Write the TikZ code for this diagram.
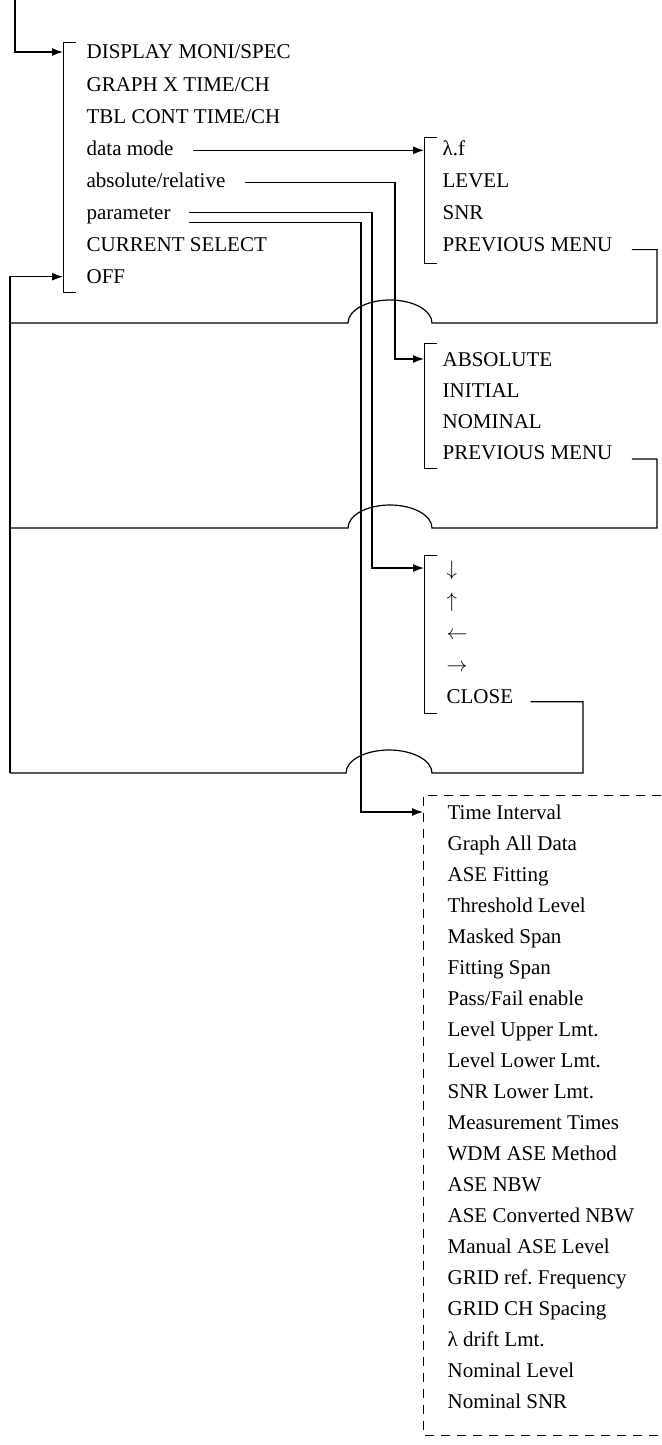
\documentclass[tikz,border=0pt]{standalone}
\usepackage{fontspec}
\setmainfont{Liberation Serif}
\usepackage{tikz}
\usetikzlibrary{arrows.meta,positioning}

\begin{document}
\begin{tikzpicture}[x=1pt, y=-1pt, >={Latex[length=11pt,width=8pt]}, line width=1.2pt]
        \tikzstyle{menuitem}=[inner sep=0pt, text height=14pt, text depth=0pt, anchor=west, font=\fontsize{21}{25}\selectfont\frenchspacing]
        \tikzstyle{boxline}=[line width=1pt, dash pattern=on 9pt off 7pt]
        \useasboundingbox (0,0) rectangle (661,1445);
        % menus
        \foreach \t [count=\i] in {DISPLAY MONI/SPEC, GRAPH X TIME/CH, TBL CONT TIME/CH, data mode, absolute/relative, parameter, CURRENT SELECT, OFF}
            \node[menuitem] (main\i) at (86,{52+32.1*(\i-1)}) {\t};
        \foreach \t [count=\i] in {λ.f, LEVEL, SNR, PREVIOUS MENU}
            \node[menuitem] (mode\i) at (442,{148.3+32.1*(\i-1)}) {\t};
        \foreach \t [count=\i] in {ABSOLUTE, INITIAL, NOMINAL, PREVIOUS MENU}
            \node[menuitem] (ref\i) at (442,{359+31.3*(\i-1)}) {\t};
        \foreach \t [count=\i] in {$\downarrow$, $\uparrow$, $\leftarrow$, $\rightarrow$, CLOSE}
            \node[menuitem] (cur\i) at (446,{568+32.2*(\i-1)}) {\t};
        \foreach \t [count=\i] in {Time Interval, Graph All Data, ASE Fitting, Threshold Level, Masked Span, Fitting Span, Pass/Fail enable, Level Upper Lmt., Level Lower Lmt., SNR Lower Lmt., Measurement Times, WDM ASE Method, ASE NBW, ASE Converted NBW, Manual ASE Level, GRID ref. Frequency, GRID CH Spacing, λ drift Lmt., Nominal Level, Nominal SNR}
            \node[menuitem] (par\i) at (447,{812+31*(\i-1)}) {\t};
        % brackets
        \foreach \n/\x/\top/\bot in {1/63/43/292, 2/424/137/263, 3/424/343/468, 4/424/555/713} {
            \coordinate (b\n) at (\x,\top);
            \draw[line width=1pt] (\x+13,\top) -- (\x,\top) -- (\x,\bot) -- (\x+13,\bot);
        }
        \coordinate (b5) at (423,795);
        \draw[boxline] (661,795) -| (423,1435) -- (661,1435);
        % forward links
        \coordinate (entry) at (15,0);
        \draw[->] (entry) |- (main1 -| b1);
        \draw[->] ([xshift=19pt,yshift=-2pt]main4.east) -- ([yshift=-2pt]main4 -| b2);
        \draw[->] ([xshift=19pt,yshift=-2pt]main5.east) -| ([xshift=-47pt]ref1.west) -- (ref1 -| b3);
        \draw[->] ([xshift=18pt]main6.east) -| ([xshift=-74pt]cur1.west) -- (cur1 -| b4);
        \draw[->] ([xshift=18pt,yshift=-10pt]main6.east) -| ([xshift=-86pt]par1.west) -- (par1 -| b5);
        % return links, hopping over the parameter lines
        \foreach \n/\x/\y in {1/657/323, 2/657/528, 3/583/773} {
            \coordinate (turn\n) at (\x,\y);
            \coordinate (hop\n) at (432,\y);
            \coordinate (rail\n) at (10,\y);
        }
        \draw ([xshift=19pt,yshift=-5pt]mode4.east) -| (turn1) -- (hop1) arc[start angle=0, end angle=180, x radius=42pt, y radius=23pt] -- (rail1);
        \draw ([xshift=19pt,yshift=-6pt]ref4.east) -| (turn2) -- (hop2) arc[start angle=0, end angle=180, x radius=42pt, y radius=23pt] -- (rail2);
        \draw ([xshift=17pt,yshift=-5pt]cur5.east) -| (turn3) -- (hop3) arc[start angle=0, end angle=180, x radius=43pt, y radius=23pt] -- (rail3);
        \draw[->] (rail3) |- (main8 -| b1);
    \end{tikzpicture}
\end{document}
